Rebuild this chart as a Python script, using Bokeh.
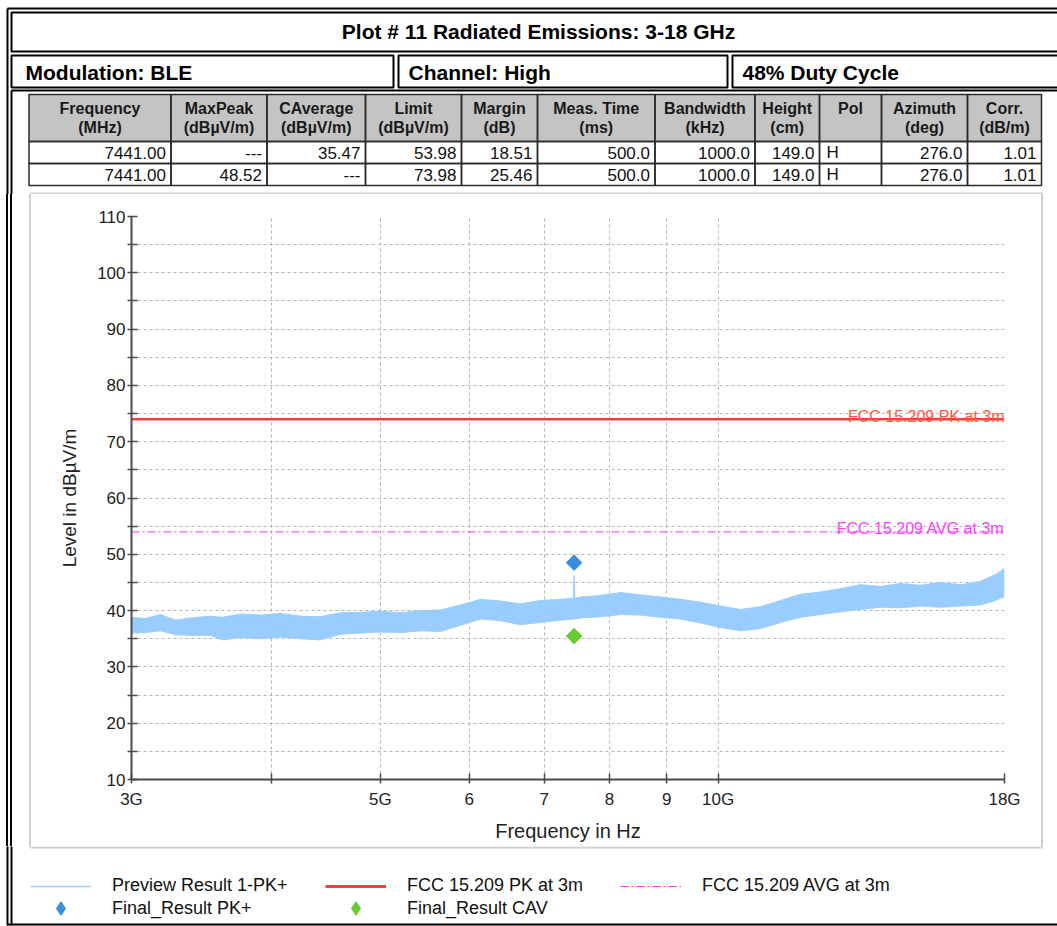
import numpy as np
from bokeh.plotting import figure
from bokeh.layouts import column, row
from bokeh.models import Range1d, FixedTicker, Label, Legend, LegendItem, Spacer
from bokeh.core.properties import value
from bokeh.embed import file_html
from bokeh.resources import INLINE

# ---------------- data ----------------
title_text = "Plot # 11 Radiated Emissions: 3-18 GHz"
info_texts = ["Modulation: BLE", "Channel: High", "48% Duty Cycle"]

table_head_1 = ["Frequency", "MaxPeak", "CAverage", "Limit", "Margin", "Meas. Time",
                "Bandwidth", "Height", "Pol", "Azimuth", "Corr."]
table_head_2 = ["(MHz)", "(dBµV/m)", "(dBµV/m)", "(dBµV/m)", "(dB)", "(ms)",
                "(kHz)", "(cm)", "", "(deg)", "(dB/m)"]
table_row_1 = ["7441.00", "---", "35.47", "53.98", "18.51", "500.0", "1000.0", "149.0", "H", "276.0", "1.01"]
table_row_2 = ["7441.00", "48.52", "---", "73.98", "25.46", "500.0", "1000.0", "149.0", "H", "276.0", "1.01"]

preview_freq_ghz = [3.000, 3.087, 3.184, 3.284, 3.386, 3.528, 3.616, 3.752, 3.909, 4.073,
                    4.244, 4.421, 4.607, 4.800, 5.002, 5.212, 5.429, 5.657, 5.894, 6.142,
                    6.399, 6.668, 6.947, 7.238, 7.430, 7.441, 7.452, 7.542, 7.857, 8.186,
                    8.527, 8.885, 9.258, 9.647, 10.05, 10.47, 10.91, 11.37, 11.84, 12.34,
                    12.86, 13.40, 13.96, 14.54, 15.15, 15.79, 16.45, 17.14, 17.67, 18.00]
preview_low = [36.0, 36.1, 36.4, 35.7, 35.6, 35.6, 34.8, 35.2, 35.0, 35.3,
               35.0, 34.8, 35.8, 36.0, 36.2, 36.1, 36.4, 36.3, 37.4, 38.5,
               38.2, 37.5, 37.9, 38.3, 38.5, 38.5, 38.5, 38.7, 38.9, 39.3,
               39.2, 38.8, 38.5, 37.8, 37.0, 36.4, 36.8, 37.9, 38.8, 39.3,
               39.8, 40.2, 40.6, 40.5, 40.8, 40.6, 40.8, 41.0, 41.8, 42.5]
preview_high = [38.8, 38.6, 39.3, 38.3, 38.7, 39.0, 38.8, 39.4, 39.2, 39.5,
                39.0, 38.9, 39.6, 39.7, 39.9, 39.6, 40.0, 40.1, 41.0, 42.0,
                41.7, 41.2, 41.8, 42.0, 42.2, 46.2, 42.2, 42.4, 42.7, 43.2,
                42.8, 42.4, 42.0, 41.5, 40.8, 40.2, 40.7, 41.8, 42.9, 43.3,
                43.9, 44.6, 44.3, 44.8, 44.5, 45.0, 44.6, 45.2, 46.4, 47.5]

final_freq_mhz = [7441.00]
final_peak = [48.52]
final_cav = [35.47]

limit_freq_ghz = [3.0, 18.0]
limit_pk = 73.98
limit_avg = 53.98
limit_pk_label = "FCC 15.209 PK at 3m"
limit_avg_label = "FCC 15.209 AVG at 3m"

x_tick_ghz = [3, 4, 5, 6, 7, 8, 9, 10, 18]
x_tick_labels = ["3G", "", "5G", "6", "7", "8", "9", "10G", "18G"]
y_ticks = [10, 20, 30, 40, 50, 60, 70, 80, 90, 100, 110]
y_minor_ticks = [15, 25, 35, 45, 55, 65, 75, 85, 95, 105]

legend_labels = ["Preview Result 1-PK+", "FCC 15.209 PK at 3m", "FCC 15.209 AVG at 3m",
                 "Final_Result PK+", "Final_Result CAV"]

# ---------------- layout constants (page pixels) ----------------
W, H = 1057, 926
TOP_H = 194                 # header strip height
MID_B = 846                 # bottom of middle strip
LEFT_W = 31                 # left strip width
RIGHT_X = 1040              # right strip start
col_edges = [28.5, 170.5, 266.5, 365, 461, 537, 654.5, 754.5, 819, 881, 967, 1041]
row_edges = [94, 141, 163, 185]
PANEL = (30, 193, 1042, 847)
PANEL_C = "#cfcfcf"
OUT_X, IN_X = 7, 11
FONT = "Liberation Sans"
GHZ = 1e9
BLACK = "#000000"

PREV_C, PK_C, AVG_C = "#99ccff", "#ff3b3b", "#ff33ff"
FPK_C, FCAV_C = "#3a8fdc", "#66cc33"


def canvas_fig(x0, x1, y0, y1):
    f = figure(width=int(x1 - x0), height=int(y1 - y0), x_range=Range1d(x0, x1),
               y_range=Range1d(y1, y0), output_backend="svg", toolbar_location=None,
               x_axis_location=None, y_axis_location=None, min_border=0,
               outline_line_color=None, background_fill_color="white",
               border_fill_color="white")
    f.grid.visible = False
    return f


def rect(f, x0, y0, x1, y1, lc=BLACK, lw=1.0, fill=None):
    f.quad(left=[x0], right=[x1], top=[y0], bottom=[y1],
           fill_color=fill, fill_alpha=1.0 if fill else 0.0,
           line_color=lc, line_width=lw, line_alpha=1.0 if lc else 0.0)


def seg(f, x0, y0, x1, y1, lc=BLACK, lw=1.0):
    f.segment(x0=[x0], y0=[y0], x1=[x1], y1=[y1], line_color=lc, line_width=lw)


def txt(f, x, y, s, size="16px", align="center", bold=False, color="#111111"):
    f.text(x=[x], y=[y], text=[s], text_font=value(FONT), text_font_size=size,
           text_align=align, text_baseline="middle", text_color=color,
           text_font_style="bold" if bold else "normal")


# ================= header strip =================
hd = canvas_fig(0, W, 0, TOP_H)
seg(hd, OUT_X, 8, OUT_X, TOP_H + 2, lw=2)
seg(hd, OUT_X, 8, W + 5, 8, lw=2)
rect(hd, IN_X, 12, W + 5, 51, lw=2)
rect(hd, IN_X, 55, 393, 87, lw=2)
rect(hd, 398, 55, 727, 87, lw=2)
rect(hd, 732, 55, W + 5, 87, lw=2)
seg(hd, IN_X, 90, W + 5, 90, lw=2)
seg(hd, IN_X, 90, IN_X, TOP_H + 2, lw=2)

txt(hd, 538, 31, title_text, size="21px", bold=True, color=BLACK)
txt(hd, 25, 72, info_texts[0], size="21px", align="left", bold=True, color=BLACK)
txt(hd, 408, 72, info_texts[1], size="21px", align="left", bold=True, color=BLACK)
txt(hd, 742, 72, info_texts[2], size="21px", align="left", bold=True, color=BLACK)

rect(hd, col_edges[0], row_edges[0], col_edges[-1], row_edges[1], lc=None, fill="#c4c4c4")
for i in range(len(col_edges) - 1):
    for j in range(len(row_edges) - 1):
        rect(hd, col_edges[i], row_edges[j], col_edges[i + 1], row_edges[j + 1], lc="#2a2a2a", lw=1.5)
for i in range(len(col_edges) - 1):
    cx = (col_edges[i] + col_edges[i + 1]) / 2
    txt(hd, cx, 108, table_head_1[i], size="16px", bold=True, color="#1a1a1a")
    if table_head_2[i]:
        txt(hd, cx, 127, table_head_2[i], size="16px", bold=True, color="#1a1a1a")
    for vals, cy in ((table_row_1, 152), (table_row_2, 174)):
        if vals[i] == "H":
            txt(hd, col_edges[i] + 7, cy, vals[i], size="17px", align="left")
        else:
            txt(hd, col_edges[i + 1] - 5, cy, vals[i], size="17px", align="right")

# panel top edge
seg(hd, PANEL[0], PANEL[1], PANEL[2], PANEL[1], lc=PANEL_C, lw=2)
seg(hd, PANEL[0], PANEL[1], PANEL[0], TOP_H + 2, lc=PANEL_C, lw=2)
seg(hd, PANEL[2], PANEL[1], PANEL[2], TOP_H + 2, lc=PANEL_C, lw=2)

# ================= left / right strips (plain CSS rules) =================
left_bg = ("linear-gradient(to right, #fff 0px, #fff 6px, #000 6px, #000 8px, #fff 8px, "
           "#fff 10px, #000 10px, #000 12px, #fff 12px, #fff 29px, %s 29px, %s 31px)"
           % (PANEL_C, PANEL_C))
right_bg = ("linear-gradient(to right, #fff 0px, #fff 1px, %s 1px, %s 3px, #fff 3px, #fff 17px)"
            % (PANEL_C, PANEL_C))
lf = Spacer(width=LEFT_W, height=MID_B - TOP_H, styles={"background": left_bg})
rf = Spacer(width=W - RIGHT_X, height=MID_B - TOP_H, styles={"background": right_bg})

# ================= main chart =================
p = figure(width=RIGHT_X - LEFT_W, height=MID_B - TOP_H, x_axis_type="log",
           x_range=Range1d(3 * GHZ, 18 * GHZ), y_range=Range1d(10, 110),
           output_backend="svg", toolbar_location=None,
           min_border_left=100, min_border_right=36, min_border_top=22, min_border_bottom=67,
           background_fill_color="white", border_fill_color="white", outline_line_color=None)

prev_x = [f * GHZ for f in preview_freq_ghz]
p.varea(x=prev_x, y1=preview_low, y2=preview_high, fill_color=PREV_C, fill_alpha=1.0)
p.line(prev_x, preview_high, line_color=PREV_C, line_width=1)
p.line(prev_x, preview_low, line_color=PREV_C, line_width=1)

lim_x = [f * GHZ for f in limit_freq_ghz]
p.line(lim_x, [limit_pk, limit_pk], line_color=PK_C, line_width=2.5)
p.line(lim_x, [limit_avg, limit_avg], line_color=AVG_C, line_width=1, line_dash="8 3 2 3")

fx = [f * 1e6 for f in final_freq_mhz]
p.scatter(fx, final_peak, marker="square", angle=np.pi / 4, size=11,
          fill_color=FPK_C, line_color=FPK_C)
p.scatter(fx, final_cav, marker="square", angle=np.pi / 4, size=11,
          fill_color=FCAV_C, line_color=FCAV_C)

p.add_layout(Label(x=lim_x[1], y=limit_pk, text=limit_pk_label, text_align="right",
                   text_baseline="alphabetic", y_offset=3, text_font=FONT,
                   text_font_size="16px", text_color="#ff5a3c"))
p.add_layout(Label(x=lim_x[1], y=limit_avg, text=limit_avg_label, text_align="right",
                   text_baseline="alphabetic", y_offset=3, text_font=FONT,
                   text_font_size="16px", text_color="#ff40ff"))

xt = [t * GHZ for t in x_tick_ghz]
xax = p.xaxis[0]
xax.ticker = FixedTicker(ticks=xt)
xax.major_label_overrides = {t: lab for t, lab in zip(xt, x_tick_labels)}
xax.axis_label = "Frequency in Hz"
yax = p.yaxis[0]
yax.ticker = FixedTicker(ticks=y_ticks, minor_ticks=y_minor_ticks)
yax.axis_label = "Level in dBµV/m"

for ax in (xax, yax):
    ax.axis_line_color = "#4a4a4a"
    ax.axis_line_width = 2
    ax.major_tick_line_color = "#4a4a4a"
    ax.major_tick_line_width = 1.5
    ax.minor_tick_line_color = "#4a4a4a"
    ax.minor_tick_line_width = 1.5
    ax.major_tick_in = 6
    ax.major_tick_out = 4
    ax.minor_tick_in = 6
    ax.minor_tick_out = 4
    ax.major_label_text_font = FONT
    ax.major_label_text_font_size = "17px"
    ax.major_label_text_color = "#222222"
    ax.axis_label_text_font = FONT
    ax.axis_label_text_font_style = "normal"
    ax.axis_label_text_color = "#222222"

xax.major_label_standoff = 6
xax.axis_label_standoff = 8
xax.axis_label_text_font_size = "20px"
yax.major_label_standoff = 2
yax.axis_label_standoff = 14
yax.axis_label_text_font_size = "19px"

p.xgrid.ticker = FixedTicker(ticks=xt)
for g in (p.xgrid[0], p.ygrid[0]):
    g.grid_line_color = "#b4b4b4"
    g.grid_line_dash = "3 3"
    g.grid_line_width = 1
p.ygrid.minor_grid_line_color = "#b4b4b4"
p.ygrid.minor_grid_line_dash = "3 3"
p.ygrid.minor_grid_line_width = 1

# ================= legend strip =================
lg = canvas_fig(0, W, MID_B, H)
seg(lg, OUT_X, MID_B - 2, OUT_X, 925, lw=2)
seg(lg, IN_X, MID_B - 2, IN_X, 925, lw=2)
seg(lg, OUT_X, 924, W + 5, 924, lw=2)
seg(lg, PANEL[0], PANEL[3], PANEL[2], PANEL[3], lc=PANEL_C, lw=2)
seg(lg, PANEL[0], MID_B - 2, PANEL[0], PANEL[3], lc=PANEL_C, lw=2)
seg(lg, PANEL[2], MID_B - 2, PANEL[2], PANEL[3], lc=PANEL_C, lw=2)

# legend keys: same series & styles as the chart; their points fall outside this strip's ranges
k_prev = lg.line(prev_x, preview_high, line_color=PREV_C, line_width=1.5)
k_pk = lg.line(lim_x, [limit_pk, limit_pk], line_color=PK_C, line_width=3)
k_avg = lg.line(lim_x, [limit_avg, limit_avg], line_color=AVG_C, line_width=1.2,
                line_dash="8 3 2 3")
k_fpk = lg.scatter(fx, final_peak, marker="diamond", size=11, fill_color=FPK_C, line_color=FPK_C)
k_fcav = lg.scatter(fx, final_cav, marker="diamond", size=11, fill_color=FCAV_C, line_color=FCAV_C)

common = dict(orientation="horizontal", border_line_alpha=0, background_fill_alpha=0,
              padding=0, margin=0, spacing=0, glyph_width=61, label_standoff=21,
              label_width=213, label_text_font=FONT, label_text_font_size="18px",
              label_text_color="#111111")
legend_lines = Legend(items=[LegendItem(label=lab, renderers=[r]) for lab, r in
                             zip(legend_labels[:3], [k_prev, k_pk, k_avg])],
                      location=(30, 30), glyph_height=16, label_height=16, **common)
legend_marks = Legend(items=[LegendItem(label=lab, renderers=[r]) for lab, r in
                             zip(legend_labels[3:], [k_fpk, k_fcav])],
                      location=(30, 1), glyph_height=34, label_height=16, **common)
lg.add_layout(legend_lines)
lg.add_layout(legend_marks)

layout = column(hd, row(lf, p, rf, spacing=0), lg, spacing=0)
open("out.html", "w").write(file_html(layout, INLINE))
